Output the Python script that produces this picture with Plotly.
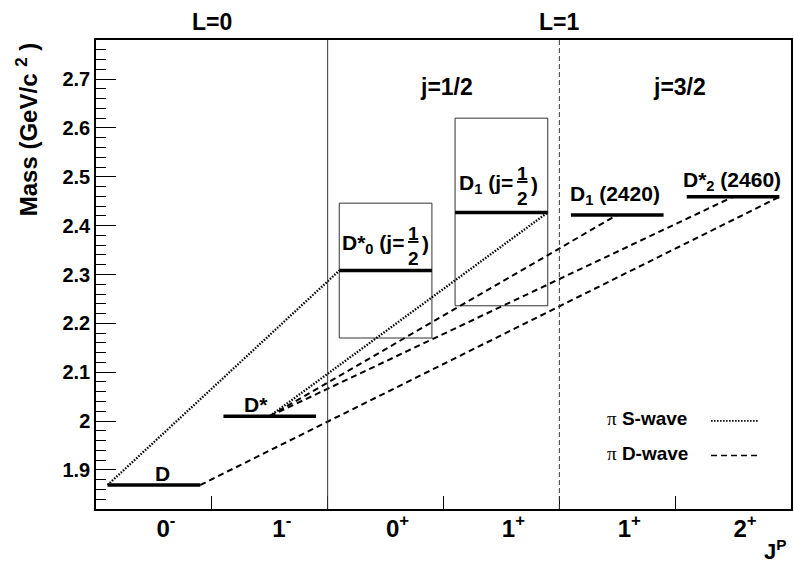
import plotly.graph_objects as go

# J^P columns along the x axis
jp_labels = ['0<sup>-</sup>', '1<sup>-</sup>', '0<sup>+</sup>', '1<sup>+</sup>', '1<sup>+</sup>', '2<sup>+</sup>']

# charm meson levels, one per column (GeV/c^2)
state_names = ['D', 'D*', 'D*<sub>0</sub> (j=', 'D<sub>1</sub> (j=',
               'D<sub>1</sub> (2420)', 'D*<sub>2</sub> (2460)']
state_mass = [1.869, 2.010, 2.308, 2.427, 2.422, 2.459]
half_j = [False, False, True, True, False, False]   # label gets a stacked 1/2

# broad j=1/2 states: width band
band_lo = [None, None, 2.170, 2.236, None, None]
band_hi = [None, None, 2.446, 2.620, None, None]

# pion transitions (from, end, to, end)
s_wave = [(0, 'left', 2, 'left'), (1, 'mid', 3, 'right')]
d_wave = [(0, 'right', 5, 'right'), (1, 'mid', 4, 'mid'), (1, 'mid', 5, 'mid')]

FONT = 'Liberation Sans, Arial, Helvetica, sans-serif'
SYM = 'Liberation Serif, Times New Roman, serif'
S_DASH = '1.5px,1.5px'
D_DASH = '6px,4px'

# label placement relative to each level (x offset in columns, y offset in mass)
label_dx = [0.07, -0.12, 0.18, 0.12, -0.02, -0.01]
label_dy = [0.024, 0.023, 0.055, 0.058, 0.040, 0.032]


def end_x(i, end):
    return {'left': i + 0.1, 'mid': i + 0.5, 'right': i + 0.9}[end]


fig = go.Figure()

# bands for the broad states
for i, (lo, hi) in enumerate(zip(band_lo, band_hi)):
    if lo is None:
        continue
    fig.add_trace(go.Scatter(x=[i + 0.1, i + 0.9, i + 0.9, i + 0.1, i + 0.1], y=[lo, lo, hi, hi, lo],
                             mode='lines', line=dict(color='#333', width=1), hoverinfo='skip'))

# transitions
for waves, dash, w in [(s_wave, S_DASH, 2.3), (d_wave, D_DASH, 2)]:
    for a, ea, b, eb in waves:
        fig.add_trace(go.Scatter(x=[end_x(a, ea), end_x(b, eb)], y=[state_mass[a], state_mass[b]],
                                 mode='lines', line=dict(color='black', width=w, dash=dash)))

# mass levels
for i, m in enumerate(state_mass):
    fig.add_trace(go.Scatter(x=[i + 0.1, i + 0.9], y=[m, m], mode='lines',
                             line=dict(color='black', width=3.5)))

# level labels
for i, name in enumerate(state_names):
    x = i + 0.5 + label_dx[i]
    y = state_mass[i] + label_dy[i]
    if half_j[i]:
        fig.add_annotation(x=x, y=y, text='<b>' + name + '</b>', showarrow=False,
                           xanchor='right', yanchor='middle', font=dict(size=21))
        fig.add_annotation(x=x, y=y, text='<b><u>1</u><br>2</b>', showarrow=False, xshift=7, yshift=-2,
                           xanchor='center', yanchor='middle', font=dict(size=19))
        fig.add_annotation(x=x, y=y, text='<b>)</b>', showarrow=False, xshift=14,
                           xanchor='left', yanchor='middle', font=dict(size=21))
    else:
        fig.add_annotation(x=x, y=y, text='<b>' + name + '</b>', showarrow=False,
                           xanchor='center', yanchor='middle', font=dict(size=21))

# section dividers
fig.add_shape(type='line', x0=2, x1=2, y0=0, y1=1, xref='x', yref='paper',
              line=dict(color='#333', width=1))
fig.add_shape(type='line', x0=4, x1=4, y0=0, y1=1, xref='x', yref='paper',
              line=dict(color='#333', width=1, dash='5px,3px'))

# section headers
for txt, x, y, yref in [('L=0', 1, 1.038, 'paper'), ('L=1', 4, 1.038, 'paper'),
                        ('j=1/2', 3.03, 2.683, 'y'), ('j=3/2', 5.04, 2.683, 'y')]:
    fig.add_annotation(x=x, y=y, xref='x', yref=yref, text='<b>' + txt + '</b>', showarrow=False,
                       xanchor='center', yanchor='middle', font=dict(size=23))

# legend (text left, sample line right)
for txt, yp, dash, w in [('S-wave', 0.192, S_DASH, 1.8), ('D-wave', 0.118, D_DASH, 1.5)]:
    fig.add_annotation(x=0.733, y=yp, xref='paper', yref='paper', showarrow=False,
                       xanchor='left', yanchor='middle',
                       text='<span style="font-family:' + SYM + ';font-weight:normal">\u03c0</span> <b>' + txt + '</b>',
                       font=dict(size=19))
    fig.add_shape(type='line', x0=0.885, x1=0.953, y0=yp - 0.004, y1=yp - 0.004, xref='paper', yref='paper',
                  line=dict(color='black', width=w, dash=dash))

# axis titles
fig.add_annotation(x=-0.099, y=0.808, xref='paper', yref='paper', showarrow=False, textangle=-90,
                   text='<b>Mass (GeV/c <sup>2</sup> )</b>', font=dict(size=24),
                   xanchor='center', yanchor='middle')
fig.add_annotation(x=0.978, y=-0.088, xref='paper', yref='paper', showarrow=False,
                   text='<b>J<sup>P</sup></b>', font=dict(size=22), xanchor='center', yanchor='middle')

fig.update_layout(
    width=794, height=563,
    margin=dict(l=96, r=1, t=40, b=54),
    plot_bgcolor='white', paper_bgcolor='white',
    showlegend=False,
    font=dict(family=FONT, color='black'),
    xaxis=dict(range=[0, 6], tickvals=[i + 0.5 for i in range(6)], ticktext=jp_labels,
               ticks='', showgrid=False, zeroline=False,
               showline=True, mirror=True, linecolor='black', linewidth=1.5,
               tickfont=dict(size=24, family=FONT, weight='bold'),
               ticklabelshift=12, ticklabelstandoff=-3,
               minor=dict(tickvals=[1, 2, 3, 4, 5], ticks='inside', ticklen=13,
                          tickcolor='black', tickwidth=1)),
    yaxis=dict(range=[1.82, 2.78], dtick=0.1, tick0=1.9, ticks='inside', ticklen=20,
               tickcolor='black', tickwidth=1, showgrid=False, zeroline=False,
               showline=True, mirror=True, linecolor='black', linewidth=1.5,
               tickfont=dict(size=20, family=FONT, weight='bold'), ticklabelstandoff=0,
               minor=dict(dtick=0.02, ticks='inside', ticklen=10, tickcolor='black', tickwidth=1)),
)

fig.write_html('out.html', config={'displayModeBar': False},
               post_script="document.body.style.margin='0';")
